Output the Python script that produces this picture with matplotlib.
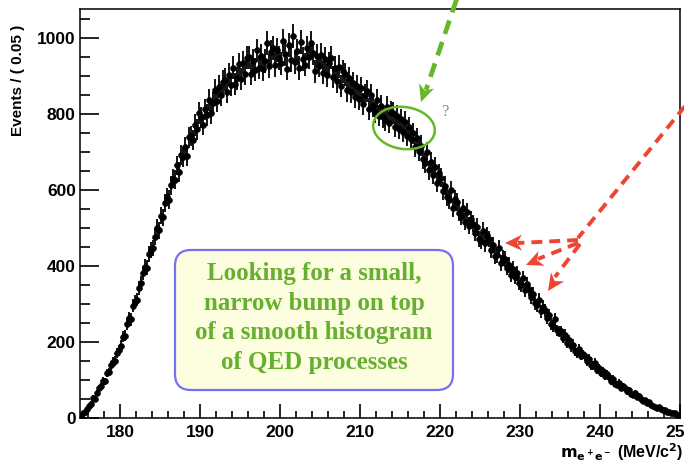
import numpy as np
import matplotlib
matplotlib.use("Agg")
import matplotlib.pyplot as plt
from matplotlib.patches import Ellipse, FancyBboxPatch, Polygon
from matplotlib.lines import Line2D
from matplotlib.transforms import IdentityTransform

# ---- histogram of the e+e- invariant mass (counts per bin, 0.25 MeV sampling) ----
mass_lo, mass_hi = 175.0, 250.0
bin_step = 0.25
counts = [
    4, 12, 15, 24,        31, 38, 52, 51,        66, 79, 83, 97,        96, 118, 121, 139,
    147, 150, 171, 178,   190, 214, 216, 247,    262, 259, 295, 306,    311, 342, 355, 381,
    398, 395, 431, 441,   447, 477, 500, 494,    532, 527, 566, 581,    574, 612, 629, 626,
    664, 647, 690, 687,   712, 688, 738, 741,    731, 770, 759, 801,    790, 771, 811, 797,
    836, 802, 828, 861,   832, 871, 849, 884,    889, 858, 902, 875,    921, 878, 893, 930,
    891, 934, 905, 947,   948, 904, 939, 915,    966, 921, 951, 917,    938, 985, 925, 962,
    973, 928, 968, 946,   932, 990, 957, 918,    981, 941, 1003, 936,   965, 920, 989, 944,
    929, 972, 948, 985,   960, 912, 951, 926,    955, 908, 944, 901,    932, 947, 896, 921,
    885, 923, 872, 911,   903, 861, 893, 858,    881, 845, 873, 838,    867, 826, 849, 860,
    812, 850, 819, 803,   836, 795, 821, 790,    783, 818, 776, 805,    801, 766, 794, 760,
    785, 752, 778, 741,   764, 733, 748, 712,    735, 702, 716, 681,    670, 699, 651, 674,
    640, 661, 618, 643,   632, 597, 611, 580,    572, 599, 552, 576,    568, 540, 529, 551,
    516, 541, 505, 522,   511, 486, 502, 470,    466, 492, 459, 480,    470, 441, 455, 425,
    428, 446, 407, 421,   418, 395, 402, 377,    392, 371, 380, 355,    349, 368, 337, 351,
    339, 318, 326, 301,   296, 311, 280, 293,    283, 262, 271, 248,    241, 259, 230, 227,
    228, 211, 219, 197,   205, 188, 193, 176,    170, 182, 164, 167,    162, 150, 156, 138,
    137, 145, 126, 131,   119, 124, 110, 115,    109, 97, 103, 90,      87, 93, 80, 84,
    79, 70, 74, 64,       60, 66, 55, 57,        50, 44, 47, 39,        41, 34, 32, 29,
    26, 30, 23, 22,       20, 16, 17, 13,        12, 13, 9, 8,
]
xtick_labels = ["180", "190", "200", "210", "220", "230", "240", "250"]
ytick_labels = ["0", "200", "400", "600", "800", "1000"]
box_lines = ["Looking for a small,", "narrow bump on top",
             "of a smooth histogram", "of QED processes"]

counts = np.asarray(counts, dtype=float)
centers = mass_lo + bin_step * (np.arange(len(counts)) + 0.5)
errors = np.sqrt(counts)

W, H = 684, 461
fig = plt.figure(figsize=(W / 100, H / 100), dpi=100)
ax = fig.add_axes([80 / W, (H - 418) / H, 600 / W, (418 - 9) / H])

ax.errorbar(centers, counts, yerr=errors, fmt="o", markersize=4.3, color="black",
            markeredgewidth=0.4, elinewidth=1.3, capsize=0)

ax.set_xlim(mass_lo, mass_hi)
ax.set_ylim(0, 1075)

tick_font = dict(family=["Liberation Sans", "DejaVu Sans"], weight="bold", size=12.5)
ax.set_xticks([float(t) for t in xtick_labels])
ax.set_xticklabels(xtick_labels, **tick_font)
ax.set_yticks([float(t) for t in ytick_labels])
ax.set_yticklabels(ytick_labels, **tick_font)
ax.set_xticks(np.arange(176, 250, 2), minor=True)
ax.set_yticks(np.arange(50, 1075, 50), minor=True)
ax.tick_params(axis="both", which="both", direction="in", top=False, right=False,
               width=1.2, color="black")
ax.tick_params(axis="y", which="major", length=14, pad=3)
ax.tick_params(axis="y", which="minor", length=7)
ax.tick_params(axis="x", which="major", length=10, pad=5)
ax.tick_params(axis="x", which="minor", length=5)
for sp in ax.spines.values():
    sp.set_linewidth(1.1)

fig.text(18 / W, (H - 80) / H, "Events / ( 0.05 )", rotation=90, ha="center",
         va="center", family=["Liberation Sans", "DejaVu Sans"], weight="bold", size=11)
fig.text(683 / W, 3 / H, r"$\mathbf{m_{e^+e^-}}$ (MeV/c$^\mathbf{2}$)", ha="right",
         va="baseline", family=["Liberation Sans", "DejaVu Sans"], weight="bold", size=11.5)

# ---- overlay drawn in pixel coordinates (origin top-left) ----
ident = IdentityTransform()


def P(x, y):
    return (x, H - y)


def dashed(pts, color, lw, dashes):
    xs = [P(*p)[0] for p in pts]
    ys = [P(*p)[1] for p in pts]
    fig.add_artist(Line2D(xs, ys, transform=ident, color=color, lw=lw,
                          dashes=dashes, solid_capstyle="butt", dash_capstyle="butt"))


def head(tail, tip, color, length=17, half=8, notch=5):
    t = np.array(P(*tip), float)
    s = np.array(P(*tail), float)
    u = (t - s) / np.hypot(*(t - s))
    n = np.array([-u[1], u[0]])
    pts = [t, t - length * u + half * n, t - (length - notch) * u, t - length * u - half * n]
    fig.add_artist(Polygon(pts, closed=True, transform=ident, facecolor=color,
                           edgecolor="none"))


green = "#66b82a"
red = "#ee4433"

# green arrow pointing at the circled region
dashed([(458, -5), (426, 90)], green, 3.4, (3, 1.8))
head((458, -5), (421, 102), green)
fig.add_artist(Ellipse(P(404, 128), 62, 42, angle=-8, transform=ident, fill=False,
                       edgecolor=green, lw=1.8))
fig.text(441 / W, (H - 116) / H, "?", color="#55aa88", family=["Liberation Serif"],
         size=12)

# red arrows fanning out towards the falling edge
dashed([(690, 100), (578, 238)], red, 2.8, (2.8, 1.8))
dashed([(578, 240), (518, 243)], red, 2.8, (2.8, 1.8))
head((578, 242), (505, 243), red)
dashed([(578, 243), (538, 259)], red, 2.8, (2.8, 1.8))
head((578, 243), (526, 265), red)
dashed([(580, 244), (555, 277)], red, 2.8, (2.8, 1.8))
head((580, 244), (548, 291), red)

# annotation box
box = FancyBboxPatch(P(175, 390), 278, 140, boxstyle="round,pad=0,rounding_size=16",
                     transform=ident, facecolor="#fdfde0", edgecolor="#7272f2", lw=1.6)
fig.add_artist(box)
fig.text(314 / W, (H - 318) / H, "\n".join(box_lines), ha="center", va="center",
         color="#66b030", family=["Liberation Serif", "DejaVu Serif"], weight="bold",
         size=18, linespacing=1.36)

fig.savefig("out.png", dpi=100)
